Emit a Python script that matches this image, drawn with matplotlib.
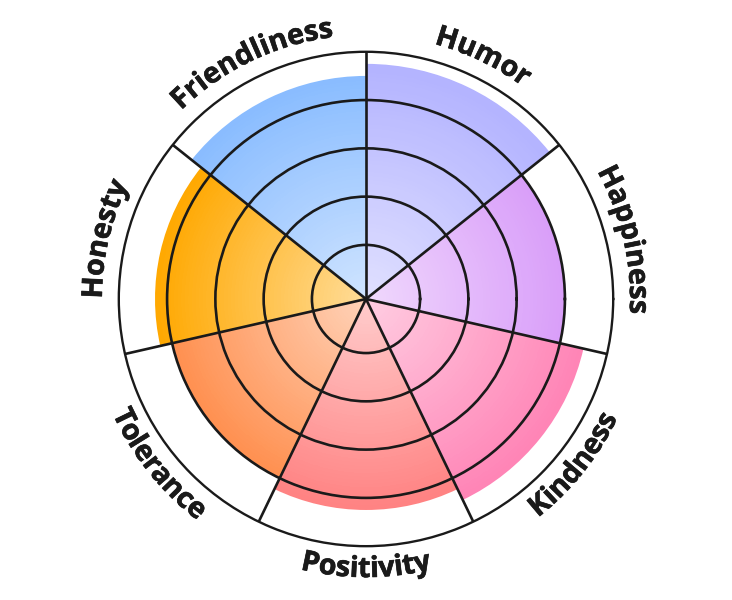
import numpy as np
import matplotlib
matplotlib.use("Agg")
import matplotlib.pyplot as plt
import matplotlib.patheffects as pe
from matplotlib.colors import LinearSegmentedColormap, to_rgb
from matplotlib.font_manager import FontProperties

# sectors go clockwise starting at 12 o'clock
categories = ["Humor", "Happiness", "Kindness", "Positivity", "Tolerance", "Honesty", "Friendliness"]
values = [4.75, 4.0, 4.5, 4.25, 4.0, 4.25, 4.5]
colors = ["#B3B3FF", "#D99EF9", "#FF84B6", "#FF8282", "#FF9050", "#FFA800", "#89BCFF"]
rings = [1, 2, 3, 4]
rmax = 5
rmin = -0.12

ink = "#1a1a1a"

fig = plt.figure(figsize=(7.32, 6), dpi=100)
ax = fig.add_axes([0.1623, 0.0897, 0.6754, 0.824], projection="polar")

n = len(categories)
w = 2 * np.pi / n
centers = np.pi / 2 - (np.arange(n) + 0.5) * w
spokes = (np.pi / 2 - np.arange(n) * w) % (2 * np.pi)

# radial gradient per sector: pale near the middle, full colour at the rim
for c, v, col in zip(centers, values, colors):
    full = np.array(to_rgb(col))
    pale = 0.42 * full + 0.58 * np.ones(3)
    cmap = LinearSegmentedColormap.from_list("g", [pale, full])
    ax.bar(c, v - rmin, bottom=rmin, width=w, color=col, linewidth=0, zorder=1)
    th = np.linspace(c - w / 2, c + w / 2, 60)
    rr = np.linspace(rmin, v - 0.03, 60)
    T, R = np.meshgrid(th, rr)
    rc = (rr[:-1] + rr[1:]) / 2
    C = np.repeat((rc / v)[:, None], len(th) - 1, axis=1)
    ax.pcolormesh(T, R, C, cmap=cmap, vmin=0, vmax=1, shading="flat",
                  antialiased=False, zorder=1.2)

ax.set_xlim(0, 2 * np.pi)
ax.set_ylim(rmin, rmax)
ax.set_xticks(spokes)
ax.set_xticklabels([])
ax.set_yticks(rings)
ax.set_yticklabels([])
ax.set_axisbelow(False)
ax.grid(True, color=ink, linewidth=1.9)
ax.spines["polar"].set_color(ink)
ax.spines["polar"].set_linewidth(1.7)
ax.tick_params(length=0)
ax.set_facecolor("none")

# curved labels, one character at a time
fig.canvas.draw()
renderer = fig.canvas.get_renderer()
prop = FontProperties(family=["Open Sans", "DejaVu Sans"], weight="bold", size=20.6)
px_per_unit = ax.get_window_extent(renderer).width / 2 / (rmax - rmin)
thick = [pe.withStroke(linewidth=0.45, foreground=ink)]


def tw(s):
    return renderer.get_text_width_height_descent(s, prop, ismath=False)[0]


for c, lab in zip(centers, categories):
    top = np.sin(c) > 0
    rb = 5.35 if top else 5.64
    rb_px = (rb - rmin) * px_per_unit
    xs = [0.0] + [tw(lab[:k]) for k in range(1, len(lab) + 1)]
    total = xs[-1]
    for k, ch in enumerate(lab):
        d = (xs[k] + xs[k + 1]) / 2 - total / 2
        if top:
            t = c - d / rb_px
            rot = np.degrees(t) - 90
        else:
            t = c + d / rb_px
            rot = np.degrees(t) + 90
        ax.text(t, rb, ch, rotation=rot, rotation_mode="anchor",
                ha="center", va="baseline", fontproperties=prop, color=ink,
                path_effects=thick)

fig.savefig("out.png", dpi=100)
